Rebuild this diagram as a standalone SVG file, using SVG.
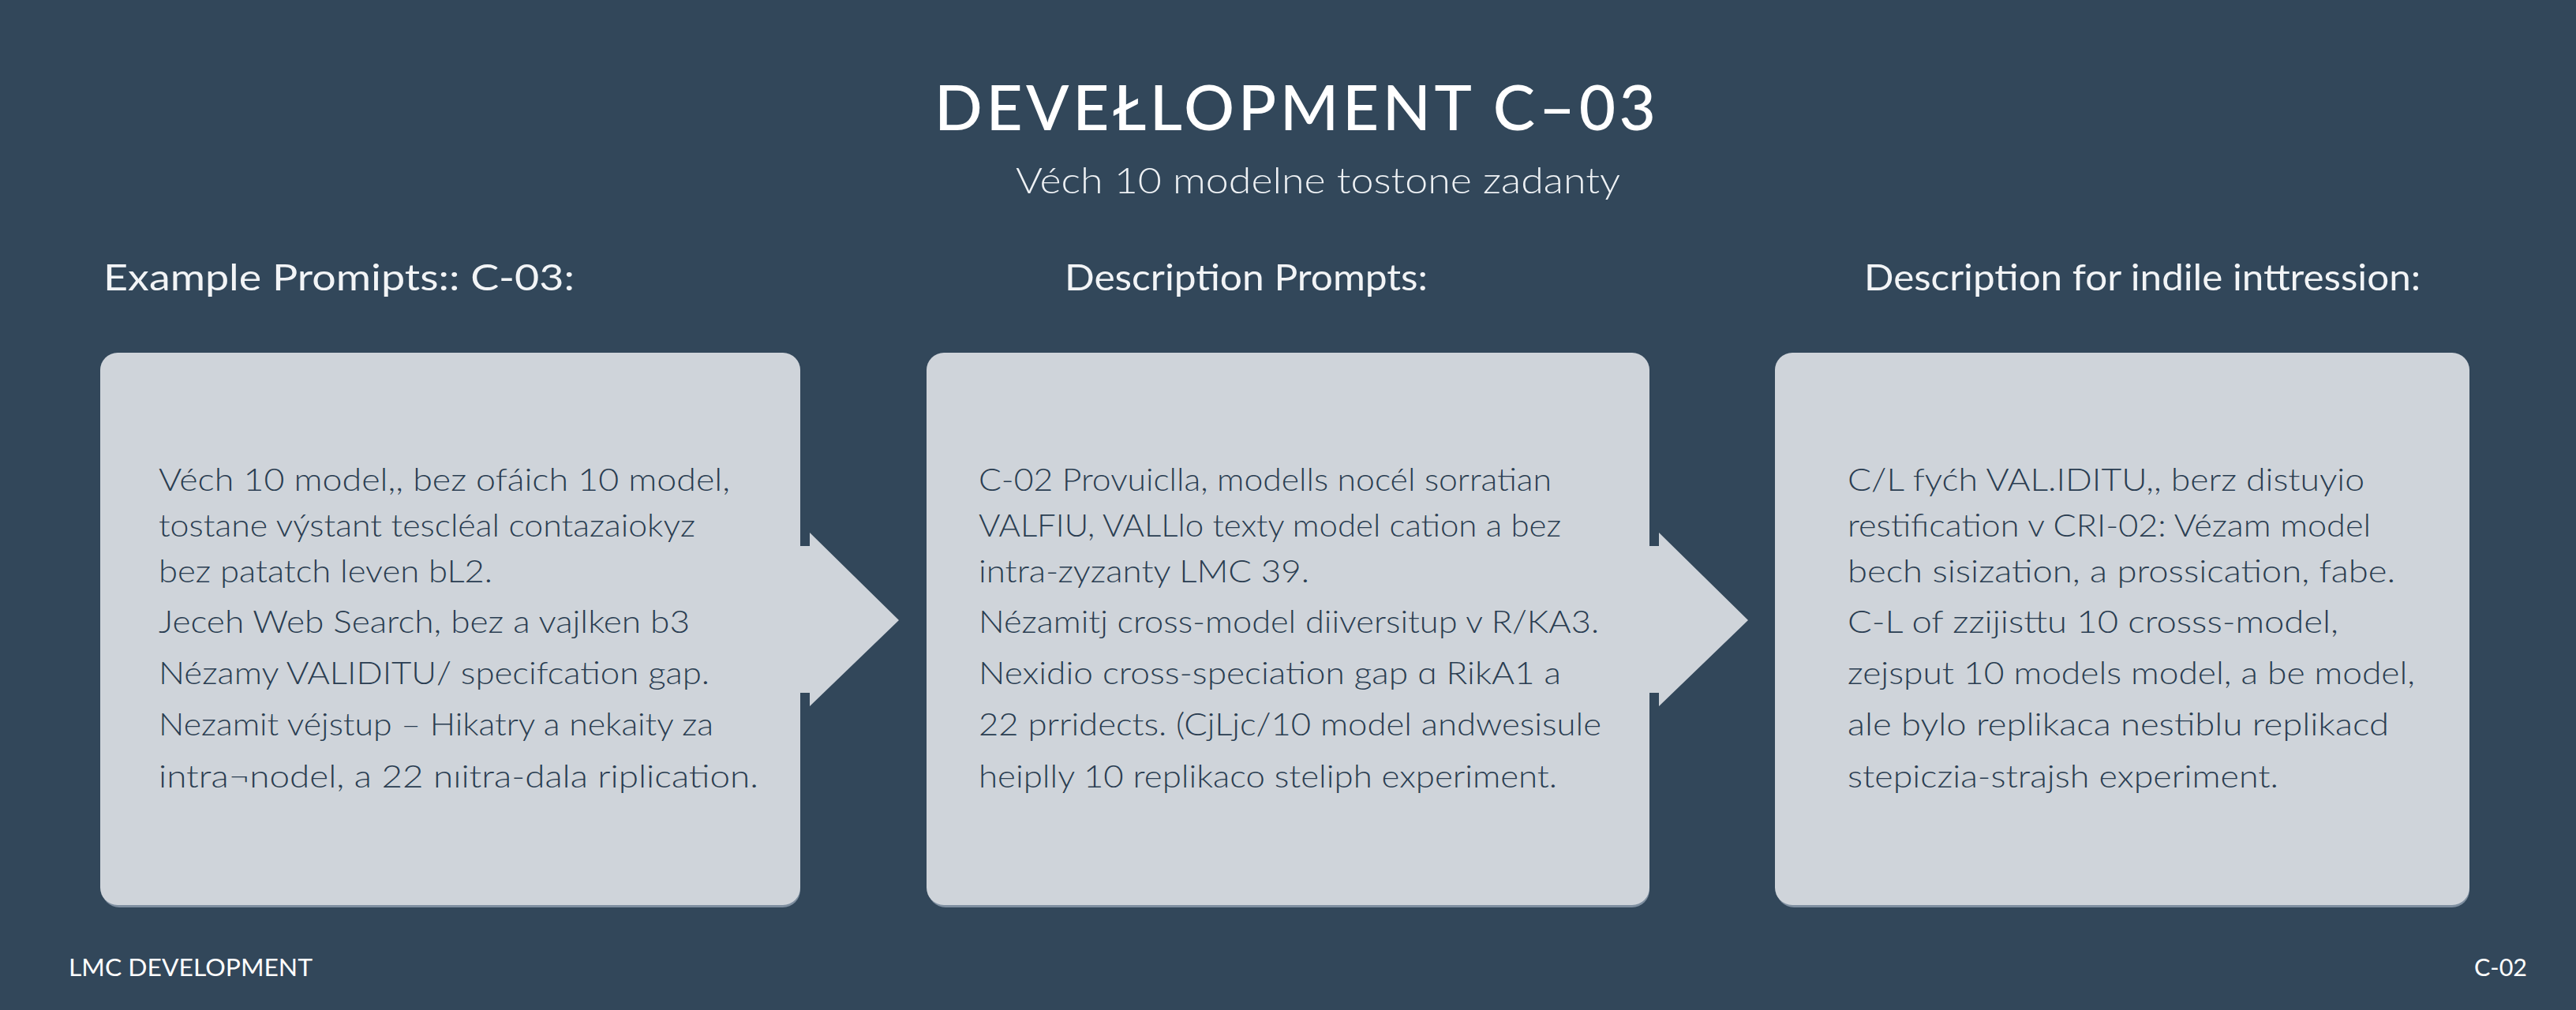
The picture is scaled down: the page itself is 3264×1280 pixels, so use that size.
<svg xmlns="http://www.w3.org/2000/svg" width="3264" height="1280" viewBox="0 0 3264 1280">
<defs>
<style>
.bg{fill:#32475A}
.box{fill:#CFD4DA}
.shadow{fill:#7F8FA0}
.arrow{fill:#CFD4DA}
.title{font-family:Lato,"Open Sans","Liberation Sans",sans-serif;font-size:80px;font-weight:500;fill:#FFFFFF}
.sub{font-family:Lato,"Open Sans","Liberation Sans",sans-serif;font-size:46px;font-weight:300;fill:#EEF1F4}
.head{font-family:Lato,"Open Sans","Liberation Sans",sans-serif;font-size:47px;font-weight:400;fill:#F2F4F6}
.body{font-family:Lato,"Open Sans","Liberation Sans",sans-serif;font-size:39px;font-weight:300;fill:#2A3D51}
.foot{font-family:Lato,"Open Sans","Liberation Sans",sans-serif;font-size:30px;fill:#FFFFFF}
</style>
</defs>
<rect class="bg" x="0" y="0" width="3264" height="1280"/>

<g id="title">
<text class="title" x="1184" y="165" textLength="914" lengthAdjust="spacing">DEVEŁLOPMENT  C–03</text>
<text class="sub" x="1287" y="245" textLength="766" lengthAdjust="spacingAndGlyphs">Véch 10 modelne tostone zadanty</text>
</g>

<g id="connectors">
<polygon class="arrow" points="1008,692 1026,692 1026,675 1139,786 1026,895 1026,878 1008,878"/>
<polygon class="arrow" points="2084,692 2102,692 2102,675 2215,786 2102,895 2102,878 2084,878"/>
</g>

<g id="node-1">
<text class="head" x="131" y="368" textLength="597" lengthAdjust="spacingAndGlyphs">Example Promipts:: C-03:</text>
<rect class="shadow" x="129" y="450" width="885" height="700" rx="22"/>
<rect class="box" x="127" y="447" width="887" height="700" rx="22"/>
<text class="body" x="201" y="622" textLength="724" lengthAdjust="spacingAndGlyphs">Véch 10 model,, bez ofáich 10 model,</text>
<text class="body" x="201" y="680" textLength="680" lengthAdjust="spacingAndGlyphs">tostane výstant tescléal contazaiokyz</text>
<text class="body" x="201" y="738" textLength="423" lengthAdjust="spacingAndGlyphs">bez patatch leven bL2.</text>
<text class="body" x="201" y="802" textLength="673" lengthAdjust="spacingAndGlyphs">Jeceh Web Search, bez a vajlken b3</text>
<text class="body" x="201" y="867" textLength="698" lengthAdjust="spacingAndGlyphs">Nézamy VALIDITU/ specifcation gap.</text>
<text class="body" x="201" y="932" textLength="703" lengthAdjust="spacingAndGlyphs">Nezamit véjstup – Hikatry a nekaity za</text>
<text class="body" x="201" y="998" textLength="760" lengthAdjust="spacingAndGlyphs">intra¬nodel, a 22  nıitra-dala riplication.</text>
</g>

<g id="node-2">
<text class="head" x="1349" y="368" textLength="460" lengthAdjust="spacingAndGlyphs">Description Prompts:</text>
<rect class="shadow" x="1176" y="450" width="914" height="700" rx="22"/>
<rect class="box" x="1174" y="447" width="916" height="700" rx="22"/>
<text class="body" x="1240" y="622" textLength="726" lengthAdjust="spacingAndGlyphs">C-02 Provuiclla, modells nocél sorratian</text>
<text class="body" x="1240" y="680" textLength="738" lengthAdjust="spacingAndGlyphs">VALFIU, VALLlo texty model cation a bez</text>
<text class="body" x="1240" y="738" textLength="419" lengthAdjust="spacingAndGlyphs">intra-zyzanty LMC 39.</text>
<text class="body" x="1240" y="802" textLength="786" lengthAdjust="spacingAndGlyphs">Nézamitj cross-model diiversitup v R/KA3.</text>
<text class="body" x="1240" y="867" textLength="738" lengthAdjust="spacingAndGlyphs">Nexidio cross-speciation gap ɑ RikA1 a</text>
<text class="body" x="1240" y="932" textLength="789" lengthAdjust="spacingAndGlyphs">22 prridects. (CjLjc/10 model andwesisule</text>
<text class="body" x="1240" y="998" textLength="733" lengthAdjust="spacingAndGlyphs">heiplly 10 replikaco steliph experiment.</text>
</g>

<g id="node-3">
<text class="head" x="2362" y="368" textLength="705" lengthAdjust="spacingAndGlyphs">Description for indile inttression:</text>
<rect class="shadow" x="2251" y="450" width="878" height="700" rx="22"/>
<rect class="box" x="2249" y="447" width="880" height="700" rx="22"/>
<text class="body" x="2341" y="622" textLength="655" lengthAdjust="spacingAndGlyphs">C/L fyćh VAL.IDITU,, berz distuyio</text>
<text class="body" x="2341" y="680" textLength="663" lengthAdjust="spacingAndGlyphs">restification v CRI-02: Vézam model</text>
<text class="body" x="2341" y="738" textLength="694" lengthAdjust="spacingAndGlyphs">bech  sisization, a prossication, fabe.</text>
<text class="body" x="2341" y="802" textLength="622" lengthAdjust="spacingAndGlyphs">C-L of zzijisttu 10 crosss-model,</text>
<text class="body" x="2341" y="867" textLength="719" lengthAdjust="spacingAndGlyphs">zejsput 10 models model, a be model,</text>
<text class="body" x="2341" y="932" textLength="686" lengthAdjust="spacingAndGlyphs">ale bylo replikaca nestiblu replikacd</text>
<text class="body" x="2341" y="998" textLength="546" lengthAdjust="spacingAndGlyphs">stepiczia-strajsh experiment.</text>
</g>

<g id="footer">
<text class="foot" x="87" y="1237" textLength="309" lengthAdjust="spacingAndGlyphs">LMC DEVELOPMENT</text>
<text class="foot" x="3135" y="1237" textLength="67" lengthAdjust="spacingAndGlyphs">C-02</text>
</g>
</svg>
